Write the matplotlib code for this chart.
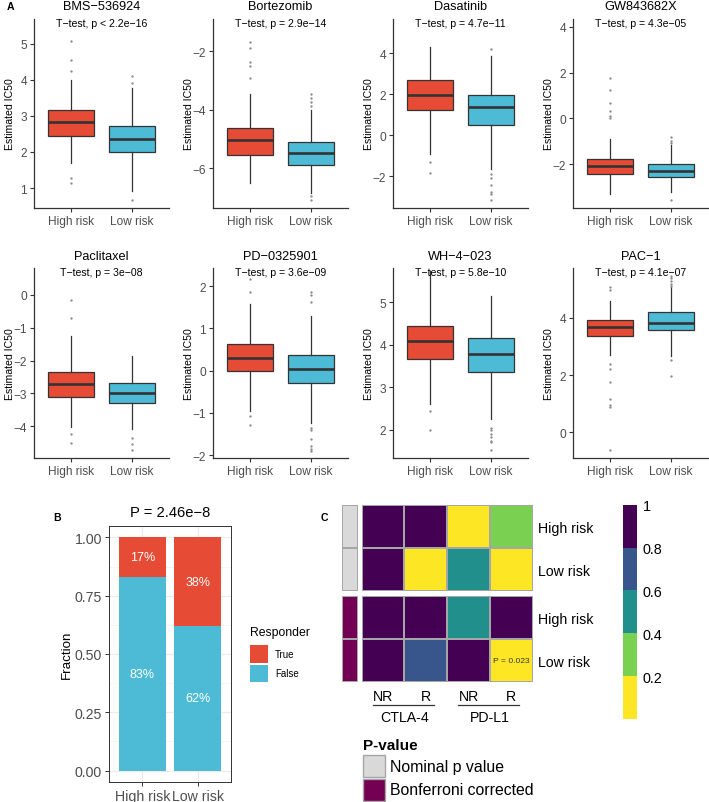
import numpy as np
import matplotlib
matplotlib.use("Agg")
import matplotlib.pyplot as plt
from matplotlib.colors import ListedColormap, BoundaryNorm
from matplotlib.cm import ScalarMappable
from matplotlib.patches import Rectangle

plt.rcParams['font.family'] = ['Liberation Sans', 'DejaVu Sans']

W, H = 709, 803

# ---- panel A: estimated IC50 boxplots ----
drugs = ["BMS\u2212536924", "Bortezomib", "Dasatinib", "GW843682X",
         "Paclitaxel", "PD\u22120325901", "WH\u22124\u2212023", "PAC\u22121"]
ttests = ["T\u2212test, p < 2.2e\u221216", "T\u2212test, p = 2.9e\u221214",
          "T\u2212test, p = 4.7e\u221211", "T\u2212test, p = 4.3e\u221205",
          "T\u2212test, p = 3e\u221208", "T\u2212test, p = 3.6e\u221209",
          "T\u2212test, p = 5.8e\u221210", "T\u2212test, p = 4.1e\u221207"]
groups = ["High risk", "Low risk"]

high_q1 = [2.45, -5.55, 1.25, -2.44, -3.10, -0.02, 3.67, 3.38]
high_med = [2.82, -5.03, 1.98, -2.07, -2.70, 0.31, 4.10, 3.67]
high_q3 = [3.16, -4.63, 2.71, -1.78, -2.34, 0.63, 4.45, 3.94]
high_lo = [1.69, -6.52, -0.91, -3.31, -4.03, -0.95, 2.61, 2.71]
high_hi = [3.99, -3.46, 4.29, -0.89, -1.25, 1.58, 5.74, 4.60]
high_fliers = [[5.08, 4.55, 4.24, 1.28, 1.13],
               [-1.67, -1.90, -2.36, -2.50, -2.91],
               [-1.30, -1.85],
               [1.75, 1.24, 0.68, 0.32, 0.10, 0.02],
               [-0.15, -0.72, -4.23, -4.49],
               [2.17, 1.86, -1.08, -1.30],
               [2.45, 2.00],
               [5.07, 4.98, 2.39, 2.22, 1.75, 1.17, 0.96, 0.90, -0.62]]

low_q1 = [1.99, -5.89, 0.52, -2.58, -3.28, -0.29, 3.36, 3.58]
low_med = [2.36, -5.48, 1.38, -2.29, -2.98, 0.04, 3.78, 3.82]
low_q3 = [2.71, -5.12, 1.98, -2.00, -2.69, 0.36, 4.16, 4.20]
low_lo = [0.92, -6.85, -1.64, -3.24, -4.08, -1.23, 2.26, 2.67]
low_hi = [3.78, -4.00, 3.85, -1.16, -1.85, 1.30, 5.16, 5.07]
low_fliers = [[4.09, 3.91, 0.66],
              [-3.45, -3.60, -3.75, -3.88, -6.95, -7.10],
              [4.21, -1.90, -2.10, -2.45, -2.75, -2.87, -3.17],
              [-0.81, -1.00, -1.10, -3.57],
              [-4.34, -4.54, -4.73],
              [1.85, 1.80, 1.63, -1.35, -1.40, -1.63, -1.78, -1.86, -1.90],
              [2.04, 1.99, 1.90, 1.83, 1.75, 1.71, 1.53],
              [5.48, 5.40, 5.30, 5.20, 5.12, 2.53, 1.97]]

ylims = [(0.45, 5.68), (-7.37, -0.89), (-3.55, 5.67), (-3.92, 4.34),
         (-4.96, 0.81), (-2.07, 2.43), (1.34, 5.81), (-0.90, 5.75)]
yticks = [[1, 2, 3, 4, 5], [-6, -4, -2], [-2, 0, 2, 4], [-2, 0, 2, 4],
          [-4, -3, -2, -1, 0], [-2, -1, 0, 1, 2], [2, 3, 4, 5], [0, 2, 4]]

# ---- panel B: responder fraction ----
risk = ["High risk", "Low risk"]
frac_true = [0.17, 0.38]
frac_false = [0.83, 0.62]

# ---- panel C: p-value heatmap ----
cols = ["NR", "R", "NR", "R"]
col_groups = ["CTLA-4", "PD-L1"]
p_nominal = [[0.95, 0.90, 0.12, 0.30],
             [0.92, 0.17, 0.45, 0.006]]
p_bonf = [[1.0, 1.0, 0.48, 1.0],
          [1.0, 0.68, 1.0, 0.023]]

RED = "#E64B35"
BLUE = "#4DBBD5"
GREY_ANN = "#D9D9D9"
PURPLE_ANN = "#730052"
# bins 0-0.2 ... 0.8-1
P_COLORS = ["#FDE725", "#7AD151", "#21908C", "#39568C", "#440154"]


def px(l, t, r, b):
    return [l / W, 1 - b / H, (r - l) / W, (b - t) / H]


fig = plt.figure(figsize=(W / 100, H / 100), dpi=100)

lefts = [34, 213, 393, 573]
rows = [(20, 209), (269, 459)]
for i in range(8):
    top, bot = rows[i // 4]
    l = lefts[i % 4]
    ax = fig.add_axes(px(l, top, l + 135, bot))
    stats = [dict(med=high_med[i], q1=high_q1[i], q3=high_q3[i],
                  whislo=high_lo[i], whishi=high_hi[i], fliers=high_fliers[i]),
             dict(med=low_med[i], q1=low_q1[i], q3=low_q3[i],
                  whislo=low_lo[i], whishi=low_hi[i], fliers=low_fliers[i])]
    bp = ax.bxp(stats, positions=[1, 2], widths=0.75, patch_artist=True,
                showcaps=False,
                boxprops=dict(edgecolor="#333333", linewidth=0.9),
                medianprops=dict(color="#333333", linewidth=1.9),
                whiskerprops=dict(color="#333333", linewidth=0.9),
                flierprops=dict(marker="o", markersize=1.7,
                                markerfacecolor="#8C8C8C",
                                markeredgecolor="none"))
    for patch, c in zip(bp["boxes"], [RED, BLUE]):
        patch.set_facecolor(c)
    ax.set_xlim(0.4, 2.6)
    ax.set_ylim(*ylims[i])
    ax.set_yticks(yticks[i])
    ax.set_xticks([1, 2])
    ax.set_xticklabels(groups)
    for s in ["top", "right"]:
        ax.spines[s].set_visible(False)
    for s in ["left", "bottom"]:
        ax.spines[s].set_color("#333333")
        ax.spines[s].set_linewidth(0.9)
    ax.tick_params(length=3, width=0.8, color="#333333", labelsize=8.6,
                   labelcolor="#4D4D4D", pad=2)
    ax.set_ylabel("Estimated IC50", fontsize=7.6)
    ax.yaxis.set_label_coords(-0.14, 0.5)
    h = bot - top
    ax.text(0.5, 1 + 12.5 / h, drugs[i], transform=ax.transAxes,
            ha="center", va="center", fontsize=9.2)
    ax.text(0.5, 1 - 4.5 / h, ttests[i], transform=ax.transAxes,
            ha="center", va="center", fontsize=7.6)

# ---- panel B ----
axb = fig.add_axes(px(109, 526.7, 231, 783.3))
xb = np.arange(1, len(risk) + 1)
axb.bar(xb, frac_false, width=0.84, color=BLUE, zorder=2)
axb.bar(xb, frac_true, bottom=frac_false, width=0.84, color=RED, zorder=2)
for x, f, t in zip(xb, frac_false, frac_true):
    axb.text(x, f / 2, f"{round(f * 100)}%", ha="center", va="center",
             color="white", fontsize=9, zorder=3)
    axb.text(x, f + t / 2, f"{round(t * 100)}%", ha="center", va="center",
             color="white", fontsize=9, zorder=3)
axb.set_xlim(0.4, 2.6)
axb.set_ylim(-0.05, 1.05)
axb.set_yticks([0, 0.25, 0.5, 0.75, 1.0])
axb.set_yticklabels(["0.00", "0.25", "0.50", "0.75", "1.00"])
axb.set_yticks([0.125, 0.375, 0.625, 0.875], minor=True)
axb.set_xticks(xb)
axb.set_xticklabels(risk)
axb.grid(True, which="major", color="#EBEBEB", linewidth=0.9, zorder=0)
axb.grid(True, which="minor", axis="y", color="#F2F2F2", linewidth=0.5, zorder=0)
axb.set_axisbelow(True)
for s in axb.spines.values():
    s.set_color("#333333")
    s.set_linewidth(0.7)
axb.tick_params(which="major", length=3, width=0.7, color="#333333",
                labelsize=10.2, labelcolor="#4D4D4D", pad=2)
axb.tick_params(which="minor", length=0)
axb.set_ylabel("Fraction", fontsize=9.6)
axb.yaxis.set_label_coords(-0.30, 0.5)
axb.text(0.5, 1 + 13.7 / 256.6, "P = 2.46e\u22128", transform=axb.transAxes,
         ha="center", va="center", fontsize=10.6)

# ---- panel C ----
cmap5 = ListedColormap(P_COLORS)
norm5 = BoundaryNorm([0, 0.2, 0.4, 0.6, 0.8, 1.0], 5)

blocks = [(p_nominal, 505.7, 592.3, GREY_ANN), (p_bonf, 597.3, 682.7, PURPLE_ANN)]
for k, (vals, t, b, annc) in enumerate(blocks):
    axh = fig.add_axes(px(361.7, t, 532.7, b))
    arr = np.array(vals)
    axh.pcolormesh(arr, cmap=cmap5, norm=norm5, edgecolors="#A6A6A6",
                   linewidth=1.2)
    axh.set_xlim(0, 4)
    axh.set_ylim(2, 0)
    axh.set_xticks([])
    axh.yaxis.tick_right()
    axh.set_yticks([0.5, 1.5])
    axh.set_yticklabels(risk)
    axh.tick_params(axis="y", length=0, labelsize=10.2, pad=3.5)
    for s in axh.spines.values():
        s.set_visible(False)
    if k == 1:
        axh.text(3.5, 1.5, "P = 0.023", ha="center", va="center", fontsize=6.1,
                 color="#333333")
        tr = axh.get_xaxis_transform()
        hh = b - t
        for j, c in enumerate(cols):
            axh.text(j + 0.5, -14 / hh, c, transform=tr, ha="center",
                     va="center", fontsize=10.2)
        for g, name in enumerate(col_groups):
            gc = 2 * g + 1
            axh.plot([gc - 0.74, gc + 0.68], [-23.5 / hh, -23.5 / hh],
                     transform=tr, color="#333333", lw=0.9, clip_on=False)
            axh.text(gc, -35 / hh, name, transform=tr, ha="center",
                     va="center", fontsize=10.2)
    axa = fig.add_axes(px(342, t, 358, b))
    axa.pcolormesh(np.zeros((2, 1)), cmap=ListedColormap([annc]),
                   edgecolors="#A6A6A6", linewidth=1.2)
    axa.set_xlim(0, 1)
    axa.set_ylim(2, 0)
    axa.axis("off")

cax = fig.add_axes(px(623.3, 505.7, 636.7, 720))
cb = fig.colorbar(ScalarMappable(norm=norm5, cmap=cmap5), cax=cax,
                  ticks=[0.2, 0.4, 0.6, 0.8, 1.0])
cb.outline.set_visible(False)
cb.ax.minorticks_off()
cb.ax.set_yticklabels(["0.2", "0.4", "0.6", "0.8", "1"])
cb.ax.tick_params(which="both", length=0, labelsize=10.4, pad=4.5)

# ---- overlay: panel letters and manual legends ----
ov = fig.add_axes([0, 0, 1, 1])
ov.set_xlim(0, W)
ov.set_ylim(H, 0)
ov.axis("off")
ov.patch.set_alpha(0)
for lab, x, y in [("A", 10.7, 7), ("B", 57, 518), ("C", 324, 518)]:
    ov.text(x, y, lab, fontsize=7.6, fontweight="bold", ha="center", va="center")

ov.text(250, 633, "Responder", fontsize=8.8, ha="left", va="center")
ov.add_patch(Rectangle((250, 646), 18.3, 18, facecolor=RED, edgecolor="none"))
ov.add_patch(Rectangle((250, 666), 18.3, 17.3, facecolor=BLUE, edgecolor="none"))
ov.text(275, 655, "True", fontsize=7, ha="left", va="center")
ov.text(275, 674.5, "False", fontsize=7, ha="left", va="center")

ov.text(363, 746, "P-value", fontsize=11, fontweight="bold", ha="left", va="center")
ov.add_patch(Rectangle((363, 756), 22, 22, facecolor=GREY_ANN, edgecolor="#A6A6A6", lw=1))
ov.add_patch(Rectangle((363, 780), 22, 21.7, facecolor=PURPLE_ANN, edgecolor="#A6A6A6", lw=1))
ov.text(390, 767.5, "Nominal p value", fontsize=11.4, ha="left", va="center")
ov.text(390, 790.5, "Bonferroni corrected", fontsize=11.4, ha="left", va="center")

fig.savefig("out.png", dpi=100)
